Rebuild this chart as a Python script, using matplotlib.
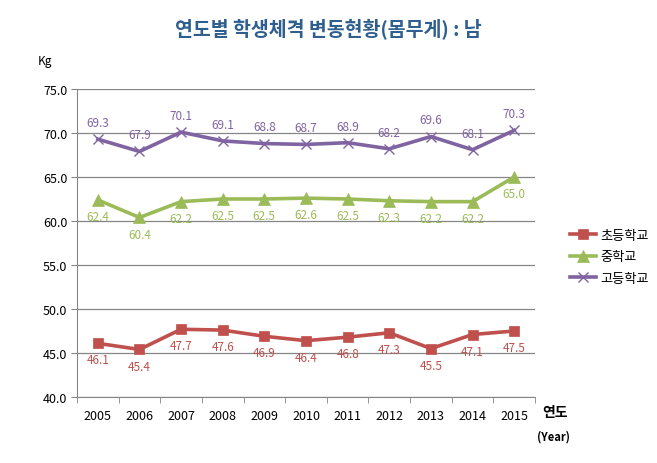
import matplotlib
matplotlib.use("Agg")
import matplotlib.pyplot as plt
import numpy as np

plt.rcParams['font.family'] = ['Noto Sans CJK KR', 'DejaVu Sans']

years = ['2005', '2006', '2007', '2008', '2009', '2010', '2011', '2012', '2013', '2014', '2015']
elementary = [46.1, 45.4, 47.7, 47.6, 46.9, 46.4, 46.8, 47.3, 45.5, 47.1, 47.5]
middle = [62.4, 60.4, 62.2, 62.5, 62.5, 62.6, 62.5, 62.3, 62.2, 62.2, 65.0]
high = [69.3, 67.9, 70.1, 69.1, 68.8, 68.7, 68.9, 68.2, 69.6, 68.1, 70.3]

series = [
    ('초등학교', elementary, '#C0504D', 's', 7, -12),
    ('중학교', middle, '#9BBB59', '^', 8, -12),
    ('고등학교', high, '#8064A2', 'x', 7, 12),
]

fig = plt.figure(figsize=(6.57, 4.64), dpi=100)
ax = fig.add_axes([77/657, 1-398/464, (535-77)/657, (398-90)/464])

x = np.arange(len(years))
for name, vals, color, marker, ms, dy in series:
    ax.plot(x, vals, color=color, lw=2.6, marker=marker, markersize=ms,
            markeredgewidth=1.0 if marker == 'x' else 0.5, label=name)
    for xi, v in zip(x, vals):
        ax.annotate(f'{v:.1f}', (xi, v), xytext=(0, dy), textcoords='offset points',
                    ha='center', va='center', fontsize=8.5, color=color)

ax.set_xlim(-0.5, len(years) - 0.5)
ax.set_ylim(40, 75)
ax.set_yticks(np.arange(40, 76, 5))
ax.set_yticklabels([f'{v:.1f}' for v in np.arange(40, 76, 5)], fontsize=9)
ax.set_xticks(x)
ax.set_xticklabels(years, fontsize=9)
ax.set_xticks(np.arange(-0.5, len(years), 1), minor=True)
ax.tick_params(axis='x', which='major', length=0, pad=9)
ax.tick_params(axis='x', which='minor', length=4, color='#868686')
ax.tick_params(axis='y', length=4, color='#868686', pad=3)
ax.grid(axis='y', color='#868686', lw=0.9)
ax.set_axisbelow(True)
for s in ['top', 'right']:
    ax.spines[s].set_visible(False)
for s in ['left', 'bottom']:
    ax.spines[s].set_color('#868686')

fig.text(0.5, 1-30/464, '연도별 학생체격 변동현황(몸무게) : 남', ha='center', va='center',
         fontsize=14, fontweight='bold', color='#2F5F8F')
fig.text(45/657, 1-62/464, 'Kg', ha='center', va='center', fontsize=8.5)
fig.text(555/657, 1-413/464, '연도', ha='center', va='center', fontsize=10, fontweight='bold')
fig.text(553/657, 1-437/464, '(Year)', ha='center', va='center', fontsize=8, fontweight='bold')

fig.legend(loc='upper left', bbox_to_anchor=(558/657, 1-218/464), frameon=False,
           fontsize=9.5, handlelength=2.0, labelspacing=0.65, handletextpad=0.3)

fig.savefig('out.png', dpi=100)
